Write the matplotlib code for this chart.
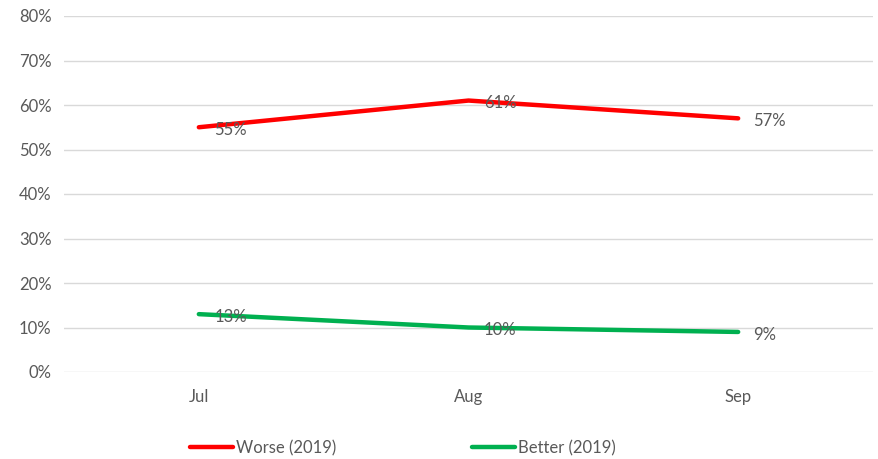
import matplotlib
matplotlib.use("Agg")
import matplotlib.pyplot as plt
from matplotlib.ticker import PercentFormatter

months = ["Jul", "Aug", "Sep"]
worse_2019 = [55, 61, 57]
better_2019 = [13, 10, 9]
yticks = [0, 10, 20, 30, 40, 50, 60, 70, 80]

plt.rcParams['font.family'] = ['Lato', 'DejaVu Sans']
txt = '#595959'

fig = plt.figure(figsize=(8.79, 4.59), dpi=100)
ax = fig.add_axes([64/879, 87/459, (873-64)/879, (372-16)/459])

x = list(range(len(months)))
ax.plot(x, worse_2019, color='#ff0000', lw=3.2, solid_capstyle='round', label='Worse (2019)', zorder=3)
ax.plot(x, better_2019, color='#00b050', lw=3.2, solid_capstyle='round', label='Better (2019)', zorder=3)

for xi, v in zip(x, worse_2019):
    ax.annotate(f"{v}%", (xi, v), xytext=(11, -2), textcoords='offset points',
                ha='left', va='center', color=txt, fontsize=12, zorder=4)
for xi, v in zip(x, better_2019):
    ax.annotate(f"{v}%", (xi, v), xytext=(11, -2), textcoords='offset points',
                ha='left', va='center', color=txt, fontsize=12, zorder=4)

ax.set_xlim(-0.5, 2.5)
ax.set_ylim(0, 80)
ax.set_yticks(yticks)
ax.yaxis.set_major_formatter(PercentFormatter(decimals=0))
ax.set_xticks(x)
ax.set_xticklabels(months)
ax.grid(axis='y', color='#d9d9d9', lw=1)
ax.set_axisbelow(True)
for s in ax.spines.values():
    s.set_visible(False)
ax.tick_params(length=0, colors=txt, labelsize=12)
ax.tick_params(axis='y', pad=9)
ax.tick_params(axis='x', pad=12)

leg = fig.legend(loc='center', bbox_to_anchor=(403/879, 11/459), ncol=2, frameon=False,
                 fontsize=12, handlelength=2.6, columnspacing=8.1, labelcolor=txt,
                 handletextpad=0.2)

fig.savefig('out.png', dpi=100)
